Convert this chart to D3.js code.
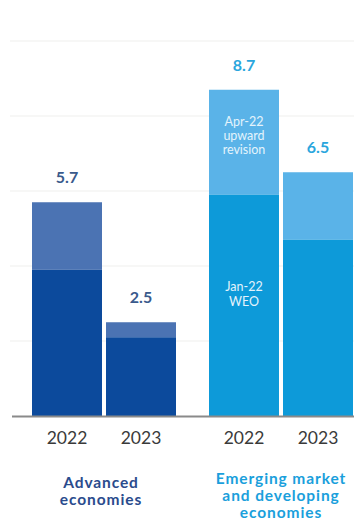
<!DOCTYPE html>
<html>
<head>
<meta charset="utf-8">
<script src="https://cdn.jsdelivr.net/npm/d3@7"></script>
<style>
  html, body { margin: 0; padding: 0; background: #fff; }
  svg { display: block; font-family: Lato, "Noto Sans", sans-serif; }
</style>
</head>
<body>
<svg id="chart" width="354" height="523"></svg>
<script>
// Inflation projections (percent): January 2022 WEO and April 2022 totals
const groups = ["Advanced economies", "Emerging market and developing economies"];
const years = ["2022", "2023"];
const janWEO = [[3.9, 2.1], [5.9, 4.7]];
const aprTotal = [[5.7, 2.5], [8.7, 6.5]];
const gridTicks = [2, 4, 6, 8, 10];
const groupLabelLines = [["Advanced", "economies"], ["Emerging market", "and developing", "economies"]];

const palette = {
  dark: ["#0c4a9c", "#0d9ad9"],
  light: ["#4b73b3", "#5ab3e8"],
  value: ["#3a5a8c", "#2aa6dd"],
  group: ["#2a4b8d", "#1a9fdc"]
};

const svg = d3.select("#chart");
const baseY = 416;

const y = d3.scaleLinear().domain([0, 10]).range([baseY, 41]);
const xGroup = d3.scaleBand().domain(groups).range([32, 353]).paddingInner(33 / 177).paddingOuter(0);
const xYear = d3.scaleBand().domain(years).range([0, xGroup.bandwidth()]).paddingInner(4 / 74).paddingOuter(0);

// faint horizontal gridlines
svg.append("g").selectAll("line").data(gridTicks).join("line")
  .attr("x1", 10).attr("x2", 354)
  .attr("y1", d => y(d)).attr("y2", d => y(d))
  .attr("stroke", "#f0f0ee").attr("stroke-width", 1.2);

const cells = [];
groups.forEach((g, gi) => years.forEach((yr, yi) => {
  cells.push({ g, gi, yr, yi, jan: janWEO[gi][yi], total: aprTotal[gi][yi] });
}));

const bx = d => xGroup(d.g) + xYear(d.yr);

// upward revision segment (stacked on top of Jan-22 WEO)
svg.append("g").selectAll("rect").data(cells).join("rect")
  .attr("x", bx).attr("width", xYear.bandwidth())
  .attr("y", d => y(d.total)).attr("height", d => y(d.jan) - y(d.total))
  .attr("fill", d => palette.light[d.gi]);

// Jan-22 WEO segment
svg.append("g").selectAll("rect").data(cells).join("rect")
  .attr("x", bx).attr("width", xYear.bandwidth())
  .attr("y", d => y(d.jan)).attr("height", d => baseY - y(d.jan))
  .attr("fill", d => palette.dark[d.gi]);

// value labels above bars
svg.append("g").selectAll("text").data(cells).join("text")
  .attr("x", d => bx(d) + xYear.bandwidth() / 2)
  .attr("y", d => y(d.total) - 19)
  .attr("text-anchor", "middle")
  .attr("font-size", 16).attr("font-weight", 700)
  .attr("fill", d => palette.value[d.gi])
  .text(d => d.total.toFixed(1));

// in-bar annotations on the emerging market 2022 bar
const ann = cells.find(d => d.gi === 1 && d.yi === 0);
const annX = bx(ann) + xYear.bandwidth() / 2;
const annTop = svg.append("text").attr("text-anchor", "middle")
  .attr("font-size", 12.5).attr("fill", "#e4f3fc");
["Apr-22", "upward", "revision"].forEach((t, i) => {
  annTop.append("tspan").attr("x", annX).attr("y", y(ann.total) + 36 + i * 14).text(t);
});
const annBot = svg.append("text").attr("text-anchor", "middle")
  .attr("font-size", 12.5).attr("fill", "#e4f3fc");
["Jan-22", "WEO"].forEach((t, i) => {
  annBot.append("tspan").attr("x", annX).attr("y", y(ann.jan) + 96 + i * 15).text(t);
});

// baseline axis
svg.append("line").attr("x1", 12).attr("x2", 354)
  .attr("y1", baseY + 0.5).attr("y2", baseY + 0.5)
  .attr("stroke", "#8a8a8a").attr("stroke-width", 2);

// year tick labels
svg.append("g").selectAll("text").data(cells).join("text")
  .attr("x", d => bx(d) + xYear.bandwidth() / 2)
  .attr("y", baseY + 28)
  .attr("text-anchor", "middle")
  .attr("font-size", 17.5).attr("fill", "#3a3a3a")
  .text(d => d.yr);

// group labels, one text element per line
groups.forEach((g, gi) => {
  const cx = xGroup(g) + xGroup.bandwidth() / 2 + (gi === 0 ? -3 : 0);
  const top = gi === 0 ? 488 : 484;
  svg.append("g").selectAll("text").data(groupLabelLines[gi]).join("text")
    .attr("x", cx)
    .attr("y", (d, li) => top + li * 17)
    .attr("text-anchor", "middle")
    .attr("font-size", 15.5).attr("font-weight", 700)
    .attr("letter-spacing", 0.9)
    .attr("fill", palette.group[gi])
    .text(d => d);
});
</script>
</body>
</html>
